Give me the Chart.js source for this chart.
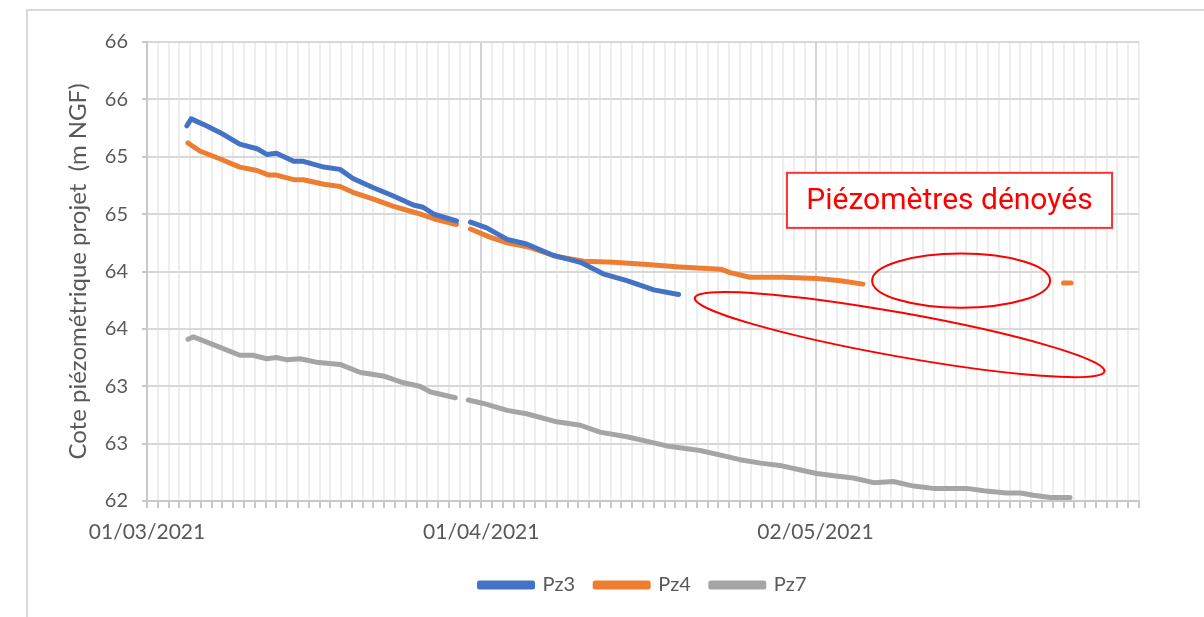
<!DOCTYPE html>
<html lang="fr">
<head>
    <meta charset="UTF-8">
    <title>Cote piézométrique Pz3 Pz4 Pz7</title>
    <script src="https://cdn.jsdelivr.net/npm/chart.js"></script>
    <style>
        body {
            margin: 0;
            background-color: white;
        }
        .chart-wrap {
            position: relative;
            width: 1204px;
            height: 617px;
        }
        .frame {
            position: absolute;
            left: 26px;
            top: 9px;
            right: 0;
            bottom: 0;
            border-left: 2px solid #d9d9d9;
            border-top: 2px solid #d9d9d9;
        }
        canvas {
            position: absolute;
            left: 0;
            top: 0;
        }
    </style>
</head>
<body>
    <div class="chart-wrap">
        <div class="frame"></div>
        <canvas id="piezoChart"></canvas>
    </div>

    <script>
        // jours depuis le 01/03/2021 et cotes (null = trou)
        const pz3Days = [3.7, 4.1, 5.5, 6.8, 8.6, 10.2, 11.1, 12.0, 13.6, 14.5, 16.4, 17.9, 19.1, 21.0, 22.8, 24.7, 25.6, 26.6, 28.7, 29.3, 30.0, 31.5, 33.4, 35.2, 37.7, 40.2, 42.3, 44.5, 47.0, 49.3];
        const pz3Values = [65.27, 65.33, 65.27, 65.21, 65.11, 65.07, 65.02, 65.03, 64.96, 64.96, 64.91, 64.89, 64.81, 64.73, 64.66, 64.58, 64.56, 64.50, 64.44, null, 64.43, 64.38, 64.28, 64.24, 64.14, 64.08, 63.98, 63.92, 63.84, 63.80];

        const pz4Days = [3.8, 4.9, 6.8, 8.6, 10.2, 11.3, 12.0, 13.6, 14.5, 16.4, 17.9, 19.1, 21.0, 22.8, 25.0, 26.6, 28.7, 29.3, 30.0, 31.8, 33.4, 35.5, 38.0, 40.5, 43.3, 46.4, 49.4, 53.2, 54.1, 55.9, 59.0, 62.1, 64.3, 66.4, 75.0, 85.0, 85.7];
        const pz4Values = [65.12, 65.05, 64.98, 64.91, 64.88, 64.84, 64.84, 64.80, 64.80, 64.76, 64.74, 64.69, 64.63, 64.57, 64.51, 64.46, 64.41, null, 64.37, 64.30, 64.25, 64.21, 64.13, 64.09, 64.08, 64.06, 64.04, 64.02, 63.99, 63.95, 63.95, 63.94, 63.92, 63.89, null, 63.90, 63.90];

        const pz7Days = [3.8, 4.3, 6.2, 8.6, 9.8, 11.1, 12.0, 13.0, 14.2, 15.7, 17.9, 19.8, 21.9, 23.8, 25.3, 26.3, 28.6, 29.2, 29.8, 31.2, 33.4, 35.2, 38.0, 40.2, 42.0, 44.5, 46.4, 48.2, 51.3, 53.2, 55.0, 56.9, 58.7, 60.6, 62.1, 63.7, 65.5, 67.4, 69.2, 71.1, 72.9, 76.0, 77.6, 79.7, 81.0, 82.2, 83.8, 85.6];
        const pz7Values = [63.41, 63.43, 63.36, 63.27, 63.27, 63.24, 63.25, 63.23, 63.24, 63.21, 63.19, 63.12, 63.09, 63.03, 63.00, 62.95, 62.90, null, 62.88, 62.85, 62.79, 62.76, 62.69, 62.66, 62.60, 62.56, 62.52, 62.48, 62.44, 62.40, 62.36, 62.33, 62.31, 62.27, 62.24, 62.22, 62.20, 62.16, 62.17, 62.13, 62.11, 62.11, 62.09, 62.07, 62.07, 62.05, 62.03, 62.03];

        const seriesNames = ['Pz3', 'Pz4', 'Pz7'];
        const seriesColors = ['#4472C4', '#ED7D31', '#A5A5A5'];

        const startDate = new Date(2021, 2, 1);
        const dayMax = 92;
        const majorUnit = 31;
        const yMin = 62, yMax = 66, yStep = 0.5;

        const noteText = 'Piézomètres dénoyés';

        function toPoints(days, values) {
            return days.map((d, i) => ({ x: d, y: values[i] }));
        }

        function formatDay(v) {
            const d = new Date(startDate.getTime());
            d.setDate(d.getDate() + v);
            const dd = String(d.getDate()).padStart(2, '0');
            const mm = String(d.getMonth() + 1).padStart(2, '0');
            return dd + '/' + mm + '/' + d.getFullYear();
        }

        // annotations rouges (cadre + ellipses), placées en coordonnées des axes
        const notesPlugin = {
            id: 'notes',
            afterDatasetsDraw(chart) {
                const { ctx, scales: { x, y } } = chart;
                ctx.save();

                // cadre de texte
                const bx0 = x.getPixelForValue(59.35), bx1 = x.getPixelForValue(89.5);
                const by0 = y.getPixelForValue(64.86), by1 = y.getPixelForValue(64.38);
                ctx.fillStyle = 'white';
                ctx.fillRect(bx0, by0, bx1 - bx0, by1 - by0);
                ctx.strokeStyle = '#ff3030';
                ctx.lineWidth = 2;
                ctx.strokeRect(bx0, by0, bx1 - bx0, by1 - by0);
                ctx.fillStyle = '#ff0000';
                ctx.font = '30px Roboto';
                ctx.textAlign = 'center';
                ctx.textBaseline = 'middle';
                ctx.fillText(noteText, (bx0 + bx1) / 2, (by0 + by1) / 2 + 1);

                ctx.strokeStyle = '#ff0000';
                ctx.lineWidth = 2;

                // ellipse horizontale
                const cx1 = x.getPixelForValue(75.5), cy1 = y.getPixelForValue(63.92);
                const rx1 = x.getPixelForValue(75.5 + 8.25) - cx1;
                const ry1 = y.getPixelForValue(63.92 - 0.236) - cy1;
                ctx.beginPath();
                ctx.ellipse(cx1, cy1, rx1, ry1, 0, 0, Math.PI * 2);
                ctx.stroke();

                // ellipse inclinée
                const lx = x.getPixelForValue(50.8), ly = y.getPixelForValue(63.77);
                const rx = x.getPixelForValue(88.8), ry = y.getPixelForValue(63.13);
                const len = Math.hypot(rx - lx, ry - ly) / 2;
                const ang = Math.atan2(ry - ly, rx - lx);
                ctx.beginPath();
                ctx.ellipse((lx + rx) / 2, (ly + ry) / 2, len, len * 0.105, ang, 0, Math.PI * 2);
                ctx.stroke();

                ctx.restore();
            }
        };

        const ctx = document.getElementById('piezoChart').getContext('2d');
        const allSeries = [
            toPoints(pz3Days, pz3Values),
            toPoints(pz4Days, pz4Values),
            toPoints(pz7Days, pz7Values)
        ];

        const chart = new Chart(ctx, {
            type: 'line',
            data: {
                datasets: allSeries.map((pts, i) => ({
                    label: seriesNames[i],
                    data: pts,
                    borderColor: seriesColors[i],
                    backgroundColor: seriesColors[i],
                    borderWidth: 5,
                    borderCapStyle: 'round',
                    borderJoinStyle: 'round',
                    pointRadius: 0,
                    tension: 0,
                    spanGaps: false,
                    fill: false
                }))
            },
            options: {
                responsive: true,
                maintainAspectRatio: false,
                animation: false,
                layout: {
                    padding: { left: 40, top: 42, right: 65, bottom: 12 }
                },
                plugins: {
                    legend: {
                        position: 'bottom',
                        fullSize: false,
                        labels: {
                            boxWidth: 53,
                            boxHeight: 4,
                            padding: 20,
                            color: '#595959',
                            font: { family: 'Lato', size: 20 }
                        }
                    },
                    tooltip: { enabled: false }
                },
                scales: {
                    x: {
                        type: 'linear',
                        min: 0,
                        max: dayMax,
                        afterFit: (s) => { s.height = 54; },
                        grid: {
                            color: (c) => (c.tick && c.tick.value % majorUnit === 0) ? '#d4d4d4' : '#eeeeee',
                            lineWidth: 2,
                            tickColor: '#c8c8c8',
                            tickLength: 7
                        },
                        border: { color: '#c8c8c8', width: 2 },
                        ticks: {
                            stepSize: 1,
                            autoSkip: false,
                            maxRotation: 0,
                            padding: 12,
                            color: '#595959',
                            font: { family: 'Lato', size: 21 },
                            callback: (v) => (v % majorUnit === 0) ? formatDay(v) : ''
                        }
                    },
                    y: {
                        min: yMin,
                        max: yMax,
                        afterFit: (s) => { s.width = 107; },
                        grid: {
                            color: '#d9d9d9',
                            lineWidth: 2,
                            tickColor: '#c8c8c8',
                            tickLength: 5
                        },
                        border: { color: '#c8c8c8', width: 2 },
                        ticks: {
                            stepSize: yStep,
                            padding: 14,
                            color: '#595959',
                            font: { family: 'Lato', size: 20 },
                            callback: (v) => Math.round(v)
                        },
                        title: {
                            display: true,
                            text: 'Cote piézométrique projet  (m NGF)',
                            color: '#595959',
                            font: { family: 'Lato', size: 24 },
                            padding: { top: 24 }
                        }
                    }
                }
            },
            plugins: [notesPlugin]
        });
    </script>
</body>
</html>
